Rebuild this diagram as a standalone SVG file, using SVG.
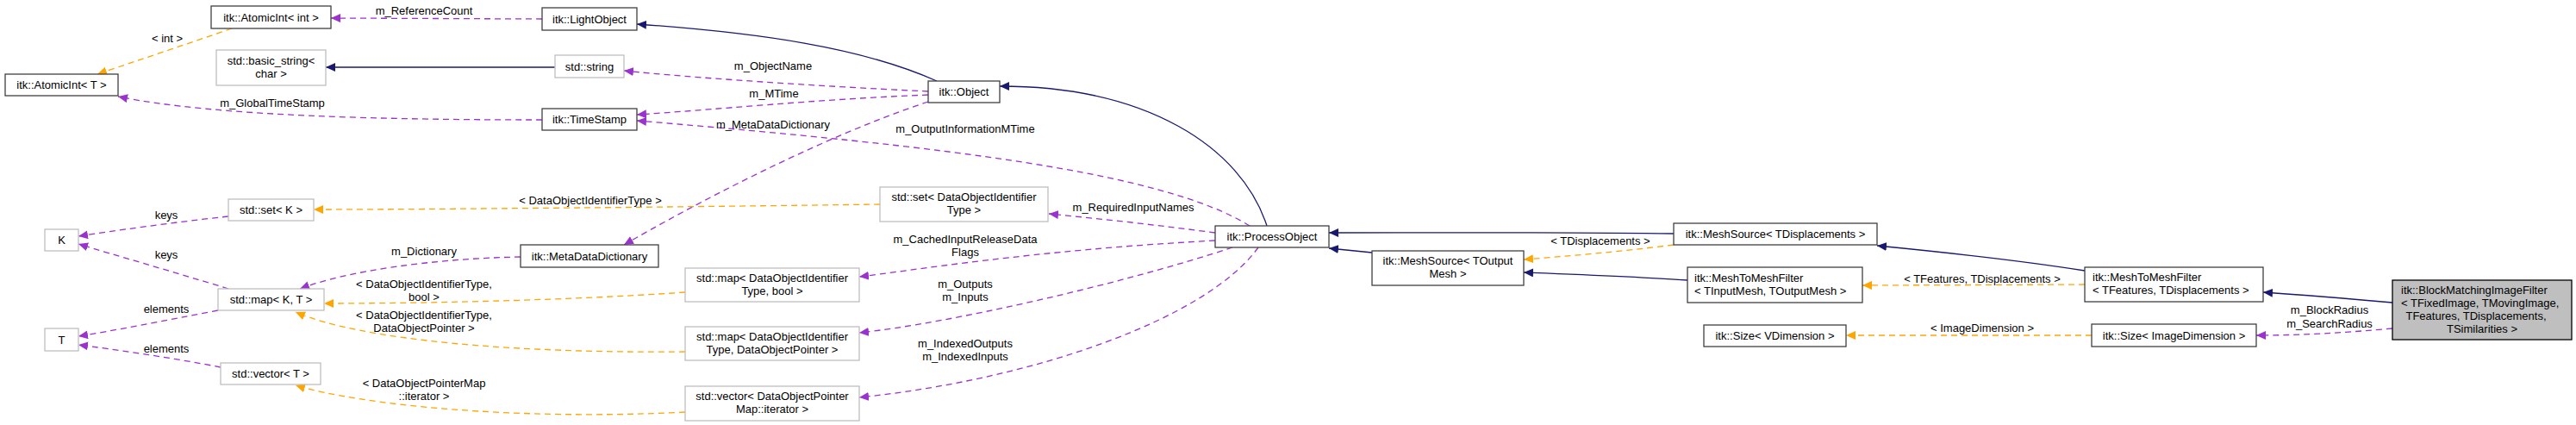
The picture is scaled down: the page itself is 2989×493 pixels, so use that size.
<svg xmlns="http://www.w3.org/2000/svg" width="2989" height="493" viewBox="0 0 2989 493">
<style>
text{font-family:"Liberation Sans",Arial,sans-serif;font-size:13px;fill:#000}
.c{text-anchor:middle}
.n rect{fill:#fff;stroke:#404040;stroke-width:1.3}
.g rect{fill:#fff;stroke:#bfbfbf;stroke-width:1.3}
.e path{fill:none;stroke-width:1.3}
.nv{stroke:#191970}
.pu{stroke:#9a32cd;stroke-dasharray:7,5}
.or{stroke:#ffa500;stroke-dasharray:7,5}
</style>
<defs>
<marker id="an" markerWidth="12" markerHeight="10" refX="11" refY="5" orient="auto" markerUnits="userSpaceOnUse"><polygon points="0,0 11,5 0,10" fill="#191970"/></marker>
<marker id="ap" markerWidth="12" markerHeight="10" refX="11" refY="5" orient="auto" markerUnits="userSpaceOnUse"><polygon points="0,0 11,5 0,10" fill="#9a32cd"/></marker>
<marker id="ao" markerWidth="12" markerHeight="10" refX="11" refY="5" orient="auto" markerUnits="userSpaceOnUse"><polygon points="0,0 11,5 0,10" fill="#ffa500"/></marker>
</defs>
<g id="edges" class="e">
<path class="or" d="M269,33 C220,50 160,70 113,86" marker-end="url(#ao)"/>
<path class="pu" d="M629,22 L384,21" marker-end="url(#ap)"/>
<path class="nv" d="M644,78 L378,78" marker-end="url(#an)"/>
<path class="pu" d="M629,139 C450,139 250,135 137,112" marker-end="url(#ap)"/>
<path class="nv" d="M1087,94 C1000,55 880,38 739,28" marker-end="url(#an)"/>
<path class="pu" d="M1077,106 C950,100 800,90 724,82" marker-end="url(#ap)"/>
<path class="pu" d="M1077,110 C950,115 820,128 739,133" marker-end="url(#ap)"/>
<path class="pu" d="M1450,262 C1350,200 1100,170 739,140" marker-end="url(#ap)"/>
<path class="pu" d="M1077,118 C950,160 800,240 724,284" marker-end="url(#ap)"/>
<path class="pu" d="M604,298 C500,300 400,315 348,335" marker-end="url(#ap)"/>
<path class="nv" d="M1470,262 C1440,170 1330,100 1160,100" marker-end="url(#an)"/>
<path class="or" d="M1021,237 C800,240 500,243 364,243" marker-end="url(#ao)"/>
<path class="pu" d="M265,251 C200,258 130,268 91,274" marker-end="url(#ap)"/>
<path class="pu" d="M265,335 C200,315 130,295 91,283" marker-end="url(#ap)"/>
<path class="pu" d="M253,360 C190,372 130,384 91,390" marker-end="url(#ap)"/>
<path class="pu" d="M256,426 C200,415 130,405 91,400" marker-end="url(#ap)"/>
<path class="or" d="M795,339 C650,349 480,352 376,352" marker-end="url(#ao)"/>
<path class="or" d="M795,408 C600,410 420,395 343,362" marker-end="url(#ao)"/>
<path class="or" d="M795,478 C600,488 420,470 343,447" marker-end="url(#ao)"/>
<path class="pu" d="M1410,270 C1350,262 1280,254 1217,248" marker-end="url(#ap)"/>
<path class="pu" d="M1410,279 C1200,290 1050,315 997,321" marker-end="url(#ap)"/>
<path class="pu" d="M1430,287 C1300,330 1100,375 997,386" marker-end="url(#ap)"/>
<path class="pu" d="M1460,287 C1400,370 1200,440 997,461" marker-end="url(#ap)"/>
<path class="nv" d="M1942,271 C1800,269 1650,270 1542,270" marker-end="url(#an)"/>
<path class="nv" d="M1592,293 L1542,288" marker-end="url(#an)"/>
<path class="or" d="M1942,284 C1880,292 1820,297 1768,301" marker-end="url(#ao)"/>
<path class="nv" d="M1958,325 C1900,321 1820,318 1768,316" marker-end="url(#an)"/>
<path class="or" d="M2419,330 L2161,331" marker-end="url(#ao)"/>
<path class="nv" d="M2419,314 C2330,300 2250,292 2178,285" marker-end="url(#an)"/>
<path class="nv" d="M2776,351 C2720,346 2670,342 2626,339" marker-end="url(#an)"/>
<path class="or" d="M2427,389 L2142,389" marker-end="url(#ao)"/>
<path class="pu" d="M2776,381 C2720,386 2670,389 2618,389" marker-end="url(#ap)"/>
<g id="edge-labels">
<text class="c" x="194" y="49">&lt; int &gt;</text>
<text class="c" x="492" y="17">m_ReferenceCount</text>
<text class="c" x="316" y="124">m_GlobalTimeStamp</text>
<text class="c" x="897" y="81">m_ObjectName</text>
<text class="c" x="898" y="113">m_MTime</text>
<text class="c" x="897" y="149">m_MetaDataDictionary</text>
<text class="c" x="1120" y="154">m_OutputInformationMTime</text>
<text class="c" x="685" y="237">&lt; DataObjectIdentifierType &gt;</text>
<text class="c" x="193" y="254">keys</text>
<text class="c" x="193" y="300">keys</text>
<text class="c" x="193" y="363">elements</text>
<text class="c" x="193" y="409">elements</text>
<text class="c" x="492" y="296">m_Dictionary</text>
<text class="c" x="492" y="334">&lt; DataObjectIdentifierType,</text>
<text class="c" x="492" y="349">bool &gt;</text>
<text class="c" x="492" y="370">&lt; DataObjectIdentifierType,</text>
<text class="c" x="492" y="385">DataObjectPointer &gt;</text>
<text class="c" x="492" y="449">&lt; DataObjectPointerMap</text>
<text class="c" x="492" y="464">::iterator &gt;</text>
<text class="c" x="1315" y="245">m_RequiredInputNames</text>
<text class="c" x="1120" y="282">m_CachedInputReleaseData</text>
<text class="c" x="1120" y="297">Flags</text>
<text class="c" x="1120" y="334">m_Outputs</text>
<text class="c" x="1120" y="349">m_Inputs</text>
<text class="c" x="1120" y="403">m_IndexedOutputs</text>
<text class="c" x="1120" y="418">m_IndexedInputs</text>
<text class="c" x="1857" y="284">&lt; TDisplacements &gt;</text>
<text class="c" x="2300" y="328">&lt; TFeatures, TDisplacements &gt;</text>
<text class="c" x="2300" y="385">&lt; ImageDimension &gt;</text>
<text class="c" x="2703" y="364">m_BlockRadius</text>
<text class="c" x="2703" y="380">m_SearchRadius</text>
</g>
</g>
<g id="n-atomicint-int" class="n"><rect x="245" y="7" width="139" height="26"/><text class="c" x="314.5" y="24.5">itk::AtomicInt&lt; int &gt;</text></g>
<g id="n-atomicint-t" class="n"><rect x="6" y="86" width="131" height="25"/><text class="c" x="71.5" y="103">itk::AtomicInt&lt; T &gt;</text></g>
<g id="n-basic-string" class="g"><rect x="251" y="58" width="127" height="41"/><text class="c" x="314.5" y="75">std::basic_string&lt;</text><text class="c" x="314.5" y="90">char &gt;</text></g>
<g id="n-lightobject" class="n"><rect x="629" y="9" width="110" height="26"/><text class="c" x="684" y="26.5">itk::LightObject</text></g>
<g id="n-string" class="g"><rect x="644" y="64" width="80" height="26"/><text class="c" x="684" y="81.5">std::string</text></g>
<g id="n-timestamp" class="n"><rect x="629" y="126" width="110" height="25"/><text class="c" x="684" y="143">itk::TimeStamp</text></g>
<g id="n-object" class="n"><rect x="1077" y="94" width="83" height="25"/><text class="c" x="1118.5" y="111">itk::Object</text></g>
<g id="n-set-k" class="g"><rect x="265" y="231" width="99" height="25"/><text class="c" x="314.5" y="248">std::set&lt; K &gt;</text></g>
<g id="n-k" class="g"><rect x="52" y="266" width="39" height="25"/><text class="c" x="71.5" y="283">K</text></g>
<g id="n-t" class="g"><rect x="52" y="381" width="39" height="26"/><text class="c" x="71.5" y="398.5">T</text></g>
<g id="n-map-kt" class="g"><rect x="253" y="335" width="123" height="25"/><text class="c" x="314.5" y="352">std::map&lt; K, T &gt;</text></g>
<g id="n-vector-t" class="g"><rect x="256" y="421" width="116" height="25"/><text class="c" x="314" y="438">std::vector&lt; T &gt;</text></g>
<g id="n-metadatadictionary" class="n"><rect x="604" y="284" width="160" height="26"/><text class="c" x="684" y="301.5">itk::MetaDataDictionary</text></g>
<g id="n-map-doi-bool" class="g"><rect x="795" y="311" width="202" height="39"/><text class="c" x="896" y="327">std::map&lt; DataObjectIdentifier</text><text class="c" x="896" y="342">Type, bool &gt;</text></g>
<g id="n-map-doi-dop" class="g"><rect x="795" y="379" width="202" height="39"/><text class="c" x="896" y="395">std::map&lt; DataObjectIdentifier</text><text class="c" x="896" y="410">Type, DataObjectPointer &gt;</text></g>
<g id="n-vector-dop" class="g"><rect x="795" y="448" width="202" height="40"/><text class="c" x="896" y="464">std::vector&lt; DataObjectPointer</text><text class="c" x="896" y="479">Map::iterator &gt;</text></g>
<g id="n-set-doi" class="g"><rect x="1021" y="217" width="195" height="40"/><text class="c" x="1118.5" y="233">std::set&lt; DataObjectIdentifier</text><text class="c" x="1118.5" y="248">Type &gt;</text></g>
<g id="n-processobject" class="n"><rect x="1410" y="262" width="132" height="25"/><text class="c" x="1476" y="279">itk::ProcessObject</text></g>
<g id="n-meshsource-toutputmesh" class="n"><rect x="1592" y="291" width="176" height="40"/><text class="c" x="1680" y="307">itk::MeshSource&lt; TOutput</text><text class="c" x="1680" y="322">Mesh &gt;</text></g>
<g id="n-meshsource-tdisp" class="n"><rect x="1942" y="259" width="236" height="25"/><text class="c" x="2060" y="276">itk::MeshSource&lt; TDisplacements &gt;</text></g>
<g id="n-meshtomesh-io" class="n"><rect x="1958" y="310" width="203" height="41"/><text x="1966" y="327">itk::MeshToMeshFilter</text><text x="1966" y="342">&lt; TInputMesh, TOutputMesh &gt;</text></g>
<g id="n-size-vdim" class="n"><rect x="1977" y="377" width="165" height="25"/><text class="c" x="2059.5" y="394">itk::Size&lt; VDimension &gt;</text></g>
<g id="n-meshtomesh-fd" class="n"><rect x="2419" y="310" width="207" height="40"/><text x="2428" y="326">itk::MeshToMeshFilter</text><text x="2428" y="341">&lt; TFeatures, TDisplacements &gt;</text></g>
<g id="n-size-imagedim" class="n"><rect x="2427" y="376" width="191" height="26"/><text class="c" x="2522.5" y="393.5">itk::Size&lt; ImageDimension &gt;</text></g>
<g id="n-blockmatching"><rect x="2776" y="325" width="208" height="69" fill="#bfbfbf" stroke="#000" stroke-width="1.3"/><text x="2786" y="341">itk::BlockMatchingImageFilter</text><text x="2786" y="356">&lt; TFixedImage, TMovingImage,</text><text class="c" x="2873" y="371">TFeatures, TDisplacements,</text><text class="c" x="2880" y="386">TSimilarities &gt;</text></g>
</svg>
